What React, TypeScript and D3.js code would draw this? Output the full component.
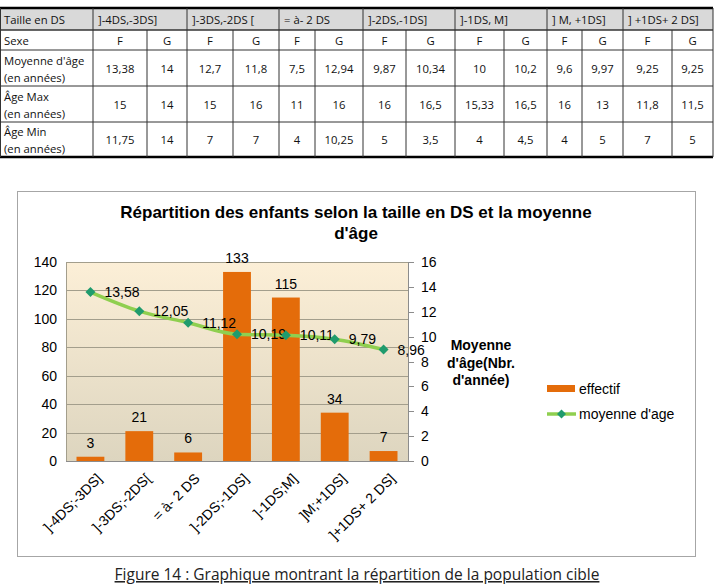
import React from "react";
import * as d3 from "d3";

// ---------- Table data ----------
const tableGroups = ["]-4DS,-3DS]", "]-3DS,-2DS [", "= à- 2 DS", "]-2DS,-1DS]", "]-1DS, M]", "] M, +1DS]", "] +1DS+ 2 DS]"];
const sexes = ["F", "G"];
const moyenneAge = ["13,38", "14", "12,7", "11,8", "7,5", "12,94", "9,87", "10,34", "10", "10,2", "9,6", "9,97", "9,25", "9,25"];
const ageMax = ["15", "14", "15", "16", "11", "16", "16", "16,5", "15,33", "16,5", "16", "13", "11,8", "11,5"];
const ageMin = ["11,75", "14", "7", "7", "4", "10,25", "5", "3,5", "4", "4,5", "4", "5", "7", "5"];

// ---------- Chart data ----------
const categories = ["]-4DS;-3DS]", "]-3DS;-2DS[", "= à- 2 DS", "]-2DS;-1DS]", "]-1DS;M]", "]M;+1DS]", "]+1DS+ 2 DS]"];
const effectif = [3, 21, 6, 133, 115, 34, 7];
const moyenne = [13.58, 12.05, 11.12, 10.19, 10.11, 9.79, 8.96];
const leftTicks = [0, 20, 40, 60, 80, 100, 120, 140];
const rightTicks = [0, 2, 4, 6, 8, 10, 12, 14, 16];

const fmt = (v: number) => String(v).replace(".", ",");

const TABLE_FONT = "'Open Sans', 'DejaVu Sans', sans-serif";
const CHART_FONT = "'Liberation Sans', Arial, sans-serif";

function Table() {
  const colEdges = [0, 93, 147, 187, 233, 279, 315, 363, 406, 455, 504, 547, 582, 623, 672, 713];
  const rowEdges = [8, 30, 50, 86, 122, 157];
  const rows: { label: string[]; values: string[] }[] = [
    { label: ["Moyenne d'âge", "(en années)"], values: moyenneAge },
    { label: ["Âge Max", "(en années)"], values: ageMax },
    { label: ["Âge Min", "(en années)"], values: ageMin },
  ];
  const fs = 11.3;
  const els: React.ReactNode[] = [];
  els.push(<rect key="hbg" x={colEdges[0]} y={rowEdges[0]} width={colEdges[15] - colEdges[0]} height={rowEdges[1] - rowEdges[0]} fill="#d9d9d9" />);
  els.push(<text key="h0" x={4} y={(rowEdges[0] + rowEdges[1]) / 2} dominantBaseline="central" fontSize={fs}>Taille en DS</text>);
  tableGroups.forEach((g, i) => {
    els.push(<text key={"hg" + i} x={colEdges[1 + 2 * i] + 5} y={(rowEdges[0] + rowEdges[1]) / 2} dominantBaseline="central" fontSize={fs}>{g}</text>);
  });
  els.push(<text key="s0" x={4} y={(rowEdges[1] + rowEdges[2]) / 2} dominantBaseline="central" fontSize={fs}>Sexe</text>);
  for (let c = 0; c < 14; c++) {
    els.push(<text key={"s" + (c + 1)} x={(colEdges[c + 1] + colEdges[c + 2]) / 2} y={(rowEdges[1] + rowEdges[2]) / 2} dominantBaseline="central" textAnchor="middle" fontSize={fs}>{sexes[c % 2]}</text>);
  }
  rows.forEach((r, ri) => {
    const y0 = rowEdges[2 + ri], y1 = rowEdges[3 + ri];
    const mid = (y0 + y1) / 2;
    els.push(<text key={"l" + ri + "a"} x={4} y={mid - 8} dominantBaseline="central" fontSize={fs}>{r.label[0]}</text>);
    els.push(<text key={"l" + ri + "b"} x={4} y={mid + 9} dominantBaseline="central" fontSize={fs}>{r.label[1]}</text>);
    r.values.forEach((v, c) => {
      els.push(<text key={"v" + ri + "_" + c} x={(colEdges[c + 1] + colEdges[c + 2]) / 2} y={mid} dominantBaseline="central" textAnchor="middle" fontSize={fs}>{v}</text>);
    });
  });
  rowEdges.forEach((y, i) => {
    const thick = i === 0 || i === rowEdges.length - 1;
    els.push(<line key={"hl" + i} x1={0} x2={colEdges[15]} y1={y} y2={y} stroke={thick ? "#000" : "#333"} strokeWidth={thick ? 2.5 : i === 1 ? 1.5 : 1} />);
  });
  colEdges.forEach((x, i) => {
    const isGroup = i === 0 || i === 1 || i % 2 === 1 || i === 15;
    els.push(<line key={"vl" + i} x1={x + (i === 0 ? 0.5 : 0)} x2={x + (i === 0 ? 0.5 : 0)} y1={isGroup ? rowEdges[0] : rowEdges[1]} y2={rowEdges[5]} stroke="#333" strokeWidth={1} />);
  });
  return <g fontFamily={TABLE_FONT} fill="#111">{els}</g>;
}

function Chart() {
  const plotL = 66, plotR = 408, plotT = 262, plotB = 461;
  const x = d3.scaleBand<string>().domain(categories).range([plotL, plotR]).paddingInner(0.43).paddingOuter(0.215);
  const yL = d3.scaleLinear().domain([0, 140]).range([plotB, plotT]);
  const yR = d3.scaleLinear().domain([0, 16]).range([plotB, plotT]);
  const cx = (c: string) => (x(c) as number) + x.bandwidth() / 2;
  const linePath = d3.line<number>().x((_, i) => cx(categories[i])).y((d) => yR(d)).curve(d3.curveMonotoneX)(moyenne) || "";
  const diamond = (px: number, py: number, r = 5) => `M${px},${py - r}L${px + r},${py}L${px},${py + r}L${px - r},${py}Z`;

  return (
    <g fontFamily={CHART_FONT}>
      <defs>
        <linearGradient id="plotbg" x1="0" y1="0" x2="0" y2="1">
          <stop offset="0" stopColor="#fcefd7" />
          <stop offset="1" stopColor="#ddd5bf" />
        </linearGradient>
      </defs>
      <rect x={17.5} y={191.5} width={678} height={365} fill="#fff" stroke="#a6a6a6" strokeWidth={1} />
      <text x={356} y={218} textAnchor="middle" fontSize={17} fontWeight="bold" fill="#000">Répartition des enfants selon la taille en DS et la moyenne</text>
      <text x={356} y={239} textAnchor="middle" fontSize={17} fontWeight="bold" fill="#000">d'âge</text>

      <rect x={plotL} y={plotT} width={plotR - plotL} height={plotB - plotT} fill="url(#plotbg)" />
      {leftTicks.map((t) => (
        <line key={"g" + t} x1={plotL} x2={plotR} y1={Math.round(yL(t)) + 0.5} y2={Math.round(yL(t)) + 0.5} stroke="#a39e8c" strokeWidth={1} />
      ))}
      <line x1={plotL + 0.5} x2={plotL + 0.5} y1={plotT} y2={plotB} stroke="#a39e8c" />
      <line x1={plotR + 0.5} x2={plotR + 0.5} y1={plotT} y2={plotB + 0.5} stroke="#8c8c8c" />
      <line x1={plotL} x2={plotR} y1={plotB + 0.5} y2={plotB + 0.5} stroke="#8c8c8c" />

      {leftTicks.map((t) => (
        <text key={"lt" + t} x={57} y={yL(t)} textAnchor="end" dominantBaseline="central" fontSize={14} fill="#000">{t}</text>
      ))}
      {rightTicks.map((t) => (
        <g key={"rt" + t}>
          <line x1={plotR} x2={plotR + 6} y1={Math.round(yR(t)) + 0.5} y2={Math.round(yR(t)) + 0.5} stroke="#8c8c8c" />
          <text x={421} y={yR(t)} dominantBaseline="central" fontSize={14} fill="#000">{t}</text>
        </g>
      ))}

      {categories.map((c, i) => (
        <g key={"b" + i}>
          <rect x={x(c)} y={yL(effectif[i])} width={x.bandwidth()} height={plotB - yL(effectif[i])} fill="#e46c0a" />
          <text x={cx(c)} y={yL(effectif[i]) - 9} textAnchor="middle" fontSize={14} fill="#000">{effectif[i]}</text>
        </g>
      ))}

      <path d={linePath} fill="none" stroke="#8fcf4f" strokeWidth={3.5} />
      {moyenne.map((m, i) => (
        <g key={"m" + i}>
          <path d={diamond(cx(categories[i]), yR(m))} fill="#1f9b6d" />
          <text x={cx(categories[i]) + 14} y={yR(m)} dominantBaseline="central" fontSize={14} fill="#000">{fmt(m)}</text>
        </g>
      ))}

      {categories.map((c, i) => (
        <text key={"xl" + i} transform={`translate(${cx(c) + 5},${plotB + 11}) rotate(-45)`} textAnchor="end" dy="0.75em" fontSize={14} fill="#000">{c}</text>
      ))}

      <g fontSize={14} fontWeight="bold" fill="#000" textAnchor="middle">
        <text x={481} y={350}>Moyenne</text>
        <text x={481} y={368}>d'âge(Nbr.</text>
        <text x={481} y={385}>d'année)</text>
      </g>

      <rect x={547} y={385} width={28} height={7} fill="#e46c0a" />
      <text x={579} y={394} fontSize={14} fill="#000">effectif</text>
      <line x1={547} x2={576} y1={414} y2={414} stroke="#8fcf4f" strokeWidth={3.5} />
      <path d={diamond(561.5, 414, 4.5)} fill="#1f9b6d" />
      <text x={579} y={419} fontSize={14} fill="#000">moyenne d'age</text>
    </g>
  );
}

export default function App() {
  return (
    <svg width={715} height={586} style={{ position: "absolute", left: 0, top: 0, background: "#fff" }}>
      <rect width={715} height={586} fill="#fff" />
      <Table />
      <Chart />
      <text x={357} y={580} textAnchor="middle" fontSize={15.5} fontFamily={TABLE_FONT} fill="#222" textDecoration="underline">
        Figure 14 : Graphique montrant la répartition de la population cible
      </text>
    </svg>
  );
}
